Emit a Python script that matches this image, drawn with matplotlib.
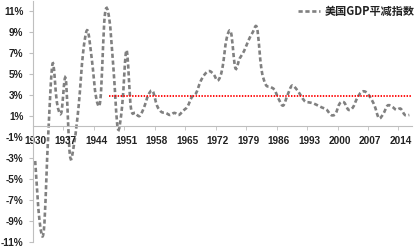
import numpy as np
import matplotlib
matplotlib.use('Agg')
import matplotlib.pyplot as plt
from matplotlib.path import Path
from matplotlib.patches import PathPatch
from matplotlib.lines import Line2D

years = np.arange(1930, 2017)
deflator = [-3.3, -9.0, -9.9, -0.8, 6.0, 2.3, 1.3, 4.6, -2.8, -1.5,
            2.0, 7.0, 9.2, 6.5, 2.8, 2.6, 10.6, 10.4, 5.5, -0.2,
            2.0, 7.3, 1.8, 1.3, 1.0, 1.8, 3.0, 3.4, 2.0, 1.4,
            1.3, 1.1, 1.3, 1.1, 1.5, 1.9, 2.8, 3.2, 4.3, 5.0,
            5.3, 5.0, 4.4, 5.5, 8.4, 9.0, 5.6, 6.5, 7.2, 8.2,
            9.0, 9.4, 5.5, 4.0, 3.8, 3.5, 2.6, 2.0, 3.0, 3.9,
            3.6, 3.0, 2.4, 2.3, 2.2, 2.0, 1.8, 1.6, 1.1, 1.2,
            2.2, 2.3, 1.6, 1.8, 2.7, 3.3, 3.3, 2.8, 2.0, 0.8,
            1.2, 2.0, 1.9, 1.6, 1.7, 1.1, 1.1]
ref_level = 2.9
ref_start, ref_end = 1947, 2016.5
label = '美国GDP平减指数'
tick_years = np.arange(1930, 2017, 7)
y_ticks = np.arange(-11, 12, 2)

fig = plt.figure(figsize=(4.16, 2.46), dpi=100)
ax = fig.add_axes([33 / 416, 4.5 / 246, 378.5 / 416, 240.5 / 246])

# smoothed line like excel: bezier segments through the points
pts = np.column_stack([years, deflator]).astype(float)
verts = [pts[0]]
codes = [Path.MOVETO]
n = len(pts)
for i in range(n - 1):
    p0 = pts[i - 1] if i > 0 else pts[i]
    p1 = pts[i]
    p2 = pts[i + 1]
    p3 = pts[i + 2] if i + 2 < n else pts[i + 1]
    c1 = p1 + (p2 - p0) / 6.0
    c2 = p2 - (p3 - p1) / 6.0
    verts += [c1, c2, p2]
    codes += [Path.CURVE4] * 3
patch = PathPatch(Path(verts, codes), fill=False, edgecolor='#808080',
                  lw=1.9, linestyle=(0, (1.6, 1.0)), capstyle='butt')
ax.add_patch(patch)

ax.plot([ref_start, ref_end], [ref_level, ref_level], color='#ff0000',
        lw=1.3, linestyle=(0, (0.8, 0.8)))

ax.set_xlim(1929.5, 2016.5)
ax.set_ylim(-11, 12)

ax.spines['top'].set_visible(False)
ax.spines['right'].set_visible(False)
ax.spines['bottom'].set_position(('data', 0))
for s in ['left', 'bottom']:
    ax.spines[s].set_color('#bfbfbf')
    ax.spines[s].set_linewidth(0.8)

ax.set_xticks(tick_years)
ax.set_xticklabels([str(y) for y in tick_years])
ax.set_xticks(np.arange(1929.5, 2017, 7), minor=True)
ax.tick_params(axis='x', which='major', length=0, pad=7)
ax.tick_params(axis='x', which='minor', length=3, color='#bfbfbf', direction='out')
ax.set_yticks(y_ticks)
ax.set_yticklabels([f'{v}%' for v in y_ticks])
ax.tick_params(axis='y', length=3, color='#bfbfbf', pad=4)
for t in ax.get_xticklabels() + ax.get_yticklabels():
    t.set_fontfamily('Liberation Sans')
    t.set_fontweight('bold')
    t.set_fontsize(7.2)
    t.set_color('#222222')

h = Line2D([], [], color='#808080', lw=1.9, linestyle=(0, (1.6, 1.0)))
leg = ax.legend([h], [label], loc='upper right', frameon=False,
                bbox_to_anchor=(1.035, 1.025), handlelength=2.0, handletextpad=0.4,
                prop={'family': ['Noto Sans CJK SC', 'DejaVu Sans'],
                      'weight': 'bold', 'size': 8})
for t in leg.get_texts():
    t.set_color('#222222')

fig.savefig('out.png', dpi=100)
